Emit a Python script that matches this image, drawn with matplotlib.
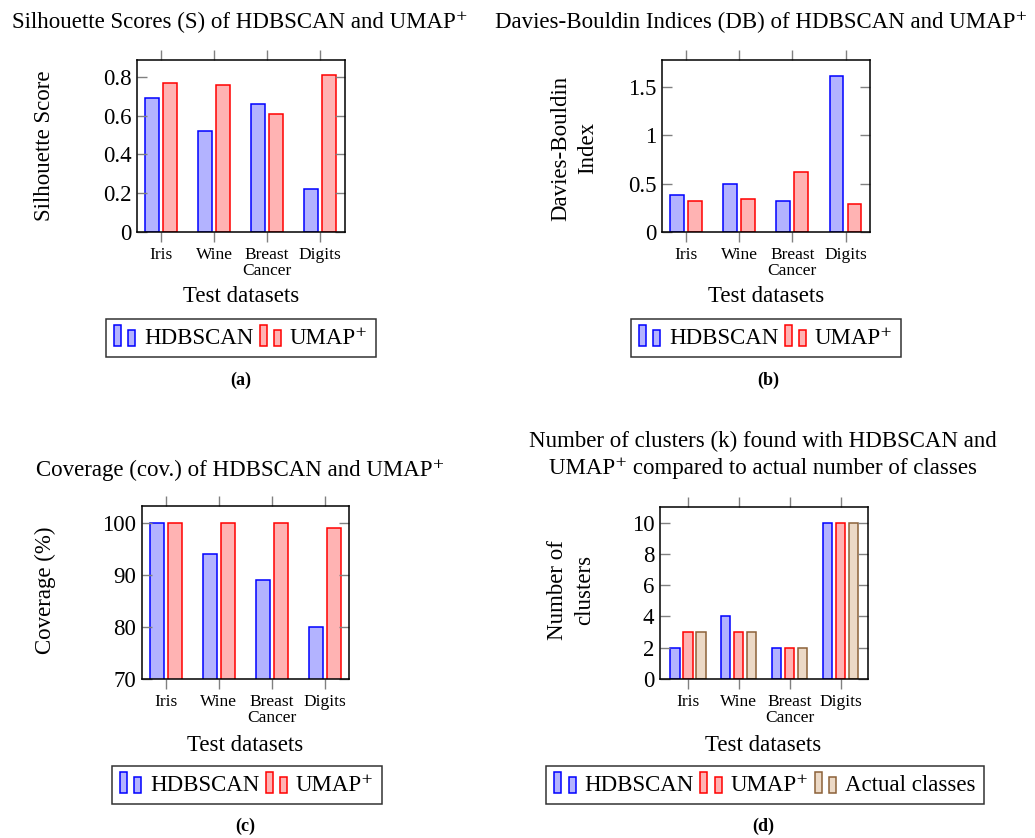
import matplotlib
matplotlib.use("Agg")
import matplotlib.pyplot as plt
from matplotlib.patches import Rectangle
from matplotlib.legend_handler import HandlerBase

plt.rcParams['font.family'] = ['Liberation Serif', 'DejaVu Serif']

# dane
datasets = ['Iris', 'Wine', 'Breast\nCancer', 'Digits']
sil_hdbscan = [0.69, 0.52, 0.66, 0.22]
sil_umap = [0.77, 0.76, 0.61, 0.81]
db_hdbscan = [0.38, 0.50, 0.32, 1.61]
db_umap = [0.32, 0.34, 0.62, 0.29]
cov_hdbscan = [100, 94, 89, 80]
cov_umap = [100, 100, 100, 99]
k_hdbscan = [2, 4, 2, 10]
k_umap = [3, 3, 2, 10]
k_actual = [3, 3, 2, 10]

BLUE = ((0.7, 0.7, 1.0), (0, 0, 1))
RED = ((1.0, 0.7, 0.7), (1, 0, 0))
BROWN = ((0.925, 0.85, 0.775), (0.55, 0.38, 0.22))

W, H = 1035, 838
UMAP = 'UMAP\u207a'
FS = 16.5


class TwoBarHandler(HandlerBase):
    def create_artists(self, legend, orig_handle, xdescent, ydescent,
                       width, height, fontsize, trans):
        fc = orig_handle.get_facecolor()
        ec = orig_handle.get_edgecolor()
        w = width * 0.3
        r1 = Rectangle((-xdescent, -ydescent - 2), w, height * 1.35,
                       facecolor=fc, edgecolor=ec, lw=1.1, transform=trans)
        r2 = Rectangle((-xdescent + width * 0.62, -ydescent - 2), w, height * 1.0,
                       facecolor=fc, edgecolor=ec, lw=1.1, transform=trans)
        return [r1, r2]


def make_axes(fig, left, right, top, bottom):
    return fig.add_axes([left / W, (H - bottom) / H, (right - left) / W, (bottom - top) / H])


def style(ax, xlim, ylim, yticks, yticklabels):
    ax.set_xlim(*xlim)
    ax.set_ylim(*ylim)
    ax.set_xticks(range(len(datasets)))
    ax.set_xticklabels(datasets, fontsize=12.5, linespacing=0.95)
    ax.set_yticks(yticks)
    ax.set_yticklabels(yticklabels, fontsize=16.5)
    ax.tick_params(axis='x', which='both', direction='out', top=True, length=7,
                   color='0.5', width=1, pad=4)
    ax.tick_params(axis='y', which='both', direction='in', right=True, length=7,
                   color='0.5', width=1, pad=4)
    for s in ax.spines.values():
        s.set_linewidth(1.1)


def bars(ax, series, width, offsets):
    x = range(len(datasets))
    for vals, (fc, ec), off in zip(series, [BLUE, RED, BROWN], offsets):
        ax.bar([i + off for i in x], vals, width=width, facecolor=fc, edgecolor=ec, lw=1.1)


def legend(fig, cx, cy, labels, colors):
    handles = [Rectangle((0, 0), 1, 1, facecolor=fc, edgecolor=ec) for fc, ec in colors]
    leg = fig.legend(handles, labels, loc='center', bbox_to_anchor=(cx / W, 1 - cy / H),
                     ncol=len(labels), fontsize=FS, frameon=True, fancybox=False,
                     handlelength=1.0, handleheight=0.7, handletextpad=0.3,
                     columnspacing=0.3, borderpad=0.35,
                     handler_map={Rectangle: TwoBarHandler()})
    leg.get_frame().set_edgecolor('black')
    leg.get_frame().set_linewidth(1.1)


fig = plt.figure(figsize=(W / 100, H / 100), dpi=100)

# (a)
ax = make_axes(fig, 137, 345, 60, 232)
bars(ax, [sil_hdbscan, sil_umap], 0.26, [-0.17, 0.17])
style(ax, (-0.46, 3.47), (0, 0.887), [0, 0.2, 0.4, 0.6, 0.8], ['0', '0.2', '0.4', '0.6', '0.8'])
fig.text(240 / W, 1 - 22 / H, 'Silhouette Scores (S) of HDBSCAN and ' + UMAP,
         ha='center', va='center', fontsize=FS)
fig.text(45 / W, 1 - 146 / H, 'Silhouette Score', rotation=90, ha='center', va='center', fontsize=FS)
fig.text(241 / W, 1 - 297 / H, 'Test datasets', ha='center', va='center', fontsize=FS)
legend(fig, 241, 338, ['HDBSCAN', UMAP], [BLUE, RED])
fig.text(241 / W, 1 - 380 / H, '(a)', ha='center', va='center', fontsize=13, fontweight='bold')

# (b)
ax = make_axes(fig, 662, 870, 60, 232)
bars(ax, [db_hdbscan, db_umap], 0.26, [-0.17, 0.17])
style(ax, (-0.45, 3.46), (0, 1.78), [0, 0.5, 1, 1.5], ['0', '0.5', '1', '1.5'])
fig.text(761 / W, 1 - 22 / H, 'Davies-Bouldin Indices (DB) of HDBSCAN and ' + UMAP,
         ha='center', va='center', fontsize=FS)
fig.text(574 / W, 1 - 148 / H, 'Davies-Bouldin\nIndex', rotation=90, ha='center', va='center',
         fontsize=FS, multialignment='center', linespacing=1.35)
fig.text(766 / W, 1 - 297 / H, 'Test datasets', ha='center', va='center', fontsize=FS)
legend(fig, 766, 338, ['HDBSCAN', UMAP], [BLUE, RED])
fig.text(768 / W, 1 - 380 / H, '(b)', ha='center', va='center', fontsize=13, fontweight='bold')

# (c)
ax = make_axes(fig, 142, 349, 506, 679)
bars(ax, [cov_hdbscan, cov_umap], 0.26, [-0.17, 0.17])
style(ax, (-0.45, 3.45), (70, 103.3), [70, 80, 90, 100], ['70', '80', '90', '100'])
fig.text(240 / W, 1 - 470 / H, 'Coverage (cov.) of HDBSCAN and ' + UMAP,
         ha='center', va='center', fontsize=FS)
fig.text(45 / W, 1 - 590 / H, 'Coverage (%)', rotation=90, ha='center', va='center', fontsize=FS)
fig.text(245 / W, 1 - 745 / H, 'Test datasets', ha='center', va='center', fontsize=FS)
legend(fig, 247, 785, ['HDBSCAN', UMAP], [BLUE, RED])
fig.text(245 / W, 1 - 826 / H, '(c)', ha='center', va='center', fontsize=13, fontweight='bold')

# (d)
ax = make_axes(fig, 660, 868, 507, 679)
bars(ax, [k_hdbscan, k_umap, k_actual], 0.18, [-0.256, 0, 0.256])
style(ax, (-0.55, 3.54), (0, 11.0), [0, 2, 4, 6, 8, 10], ['0', '2', '4', '6', '8', '10'])
fig.text(763 / W, 1 - 455 / H,
         'Number of clusters (k) found with HDBSCAN and\n' + UMAP + ' compared to actual number of classes',
         ha='center', va='center', fontsize=FS, linespacing=1.3)
fig.text(571 / W, 1 - 590 / H, 'Number of\nclusters', rotation=90, ha='center', va='center',
         fontsize=FS, multialignment='center', linespacing=1.35)
fig.text(763 / W, 1 - 745 / H, 'Test datasets', ha='center', va='center', fontsize=FS)
legend(fig, 765, 785, ['HDBSCAN', UMAP, 'Actual classes'], [BLUE, RED, BROWN])
fig.text(763 / W, 1 - 826 / H, '(d)', ha='center', va='center', fontsize=13, fontweight='bold')

fig.savefig('out.png', dpi=100)
